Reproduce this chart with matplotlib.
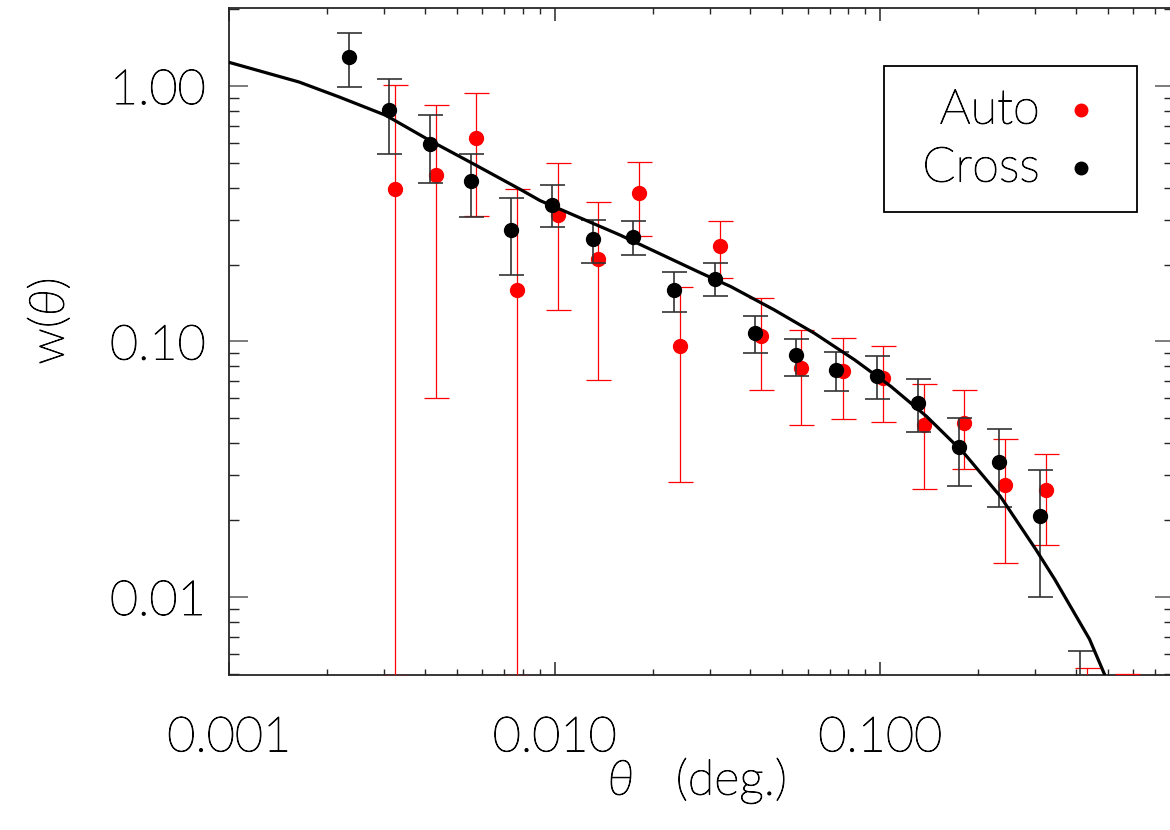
import matplotlib
matplotlib.use('Agg')
import matplotlib.pyplot as plt
import matplotlib.patheffects as pe
from matplotlib.patches import Rectangle
from matplotlib.ticker import FixedLocator, LogLocator, NullFormatter

###################################################################
## data

## cross-correlation w(theta)
theta_cross = [0.00233, 0.00310, 0.00414, 0.00553, 0.00736, 0.00981, 0.0131, 0.0174,
               0.0233, 0.0311, 0.0414, 0.0551, 0.0733, 0.0980, 0.131, 0.1745, 0.232,
               0.311, 0.4125]
w_cross = [1.30, 0.804, 0.592, 0.423, 0.273, 0.343, 0.251, 0.256, 0.159, 0.176, 0.108,
           0.0882, 0.0770, 0.0736, 0.0574, 0.0387, 0.0339, 0.0207, 0.003]
cross_hi = [1.61, 1.062, 0.770, 0.541, 0.364, 0.408, 0.299, 0.296, 0.187, 0.2025, 0.126,
            0.1027, 0.0909, 0.0879, 0.0710, 0.0502, 0.0453, 0.0315, 0.00615]
cross_lo = [0.991, 0.540, 0.418, 0.308, 0.182, 0.280, 0.2025, 0.218, 0.130, 0.151, 0.0903,
            0.0735, 0.0642, 0.0597, 0.0443, 0.0272, 0.0226, 0.0100, 0.001]

## auto-correlation w(theta)
theta_auto = [0.00323, 0.00432, 0.00575, 0.00767, 0.01023, 0.0136, 0.0182, 0.0243,
              0.0323, 0.0431, 0.0572, 0.0768, 0.1023, 0.1363, 0.1815, 0.242, 0.324,
              0.433, 0.575]
w_auto = [0.397, 0.449, 0.626, 0.159, 0.3125, 0.210, 0.381, 0.0962, 0.237, 0.1055, 0.0784,
          0.0766, 0.0721, 0.0471, 0.0480, 0.02755, 0.0262, 0.003, 0.002]
auto_hi = [1.013, 0.841, 0.939, 0.394, 0.498, 0.350, 0.5035, 0.164, 0.297, 0.1486, 0.1108,
           0.1034, 0.0959, 0.0679, 0.0644, 0.0417, 0.0364, 0.00527, 0.0050]
auto_lo = [0.0049, 0.0603, 0.3105, 0.0049, 0.133, 0.0708, 0.2587, 0.0283, 0.1769, 0.0644,
           0.0471, 0.0496, 0.0483, 0.02635, 0.03155, 0.01354, 0.01602, 0.001, 0.001]

## model curve
theta_model = [0.001, 0.00164, 0.00218, 0.00303, 0.00412, 0.00573, 0.00793, 0.00903,
               0.0159, 0.0280, 0.0348, 0.0473, 0.0628, 0.0835, 0.108, 0.139, 0.181,
               0.234, 0.301, 0.344, 0.440, 0.489, 0.497]
w_model = [1.238, 1.037, 0.906, 0.768, 0.614, 0.490, 0.391, 0.356, 0.261, 0.186, 0.164,
           0.133, 0.1078, 0.0848, 0.0667, 0.0509, 0.0366, 0.0248, 0.01535, 0.01173,
           0.00684, 0.00499, 0.0046]

xticks = [0.001, 0.01, 0.1]
xticklabels = ['0.001', '0.010', '0.100']
yticks = [0.01, 0.1, 1.0]
yticklabels = ['0.01', '0.10', '1.00']

###################################################################
## plotting

plt.rcParams['font.family'] = 'Lato'
plt.rcParams['font.weight'] = 'light'
plt.rcParams['axes.labelweight'] = 'light'
plt.rcParams['mathtext.fontset'] = 'custom'
plt.rcParams['mathtext.it'] = 'Lato:style=italic:weight=light'
plt.rcParams['mathtext.rm'] = 'Lato:weight=light'
fs = 35
ink = [pe.withStroke(linewidth=0.7, foreground='black')]  ## darken the thin glyphs

fig = plt.figure(figsize=(11.7, 8.3), dpi=100)
ax = fig.add_axes([229/1170, 1-675/830, 945/1170, 667/830])
ax.set_xscale('log')
ax.set_yscale('log')
ax.set_xlim(0.001, 0.8)
ax.set_ylim(0.00495, 2.02)

def err(w, lo, hi):
    return [[v - l for v, l in zip(w, lo)], [h - v for v, h in zip(w, hi)]]

ax.errorbar(theta_auto, w_auto, yerr=err(w_auto, auto_lo, auto_hi), fmt='o',
            color='red', ecolor='red', elinewidth=0.9, capsize=9, capthick=0.9,
            markersize=10, zorder=3)
ax.errorbar(theta_cross, w_cross, yerr=err(w_cross, cross_lo, cross_hi), fmt='o',
            color='black', ecolor='0.2', elinewidth=1.2, capsize=9, capthick=1.2,
            markersize=10, zorder=4)
ax.plot(theta_model, w_model, color='black', lw=2.3, zorder=5)

## ticks on all four sides, pointing in
ax.xaxis.set_major_locator(FixedLocator(xticks))
ax.set_xticklabels(xticklabels)
ax.xaxis.set_minor_locator(LogLocator(base=10, subs=range(2, 10)))
ax.xaxis.set_minor_formatter(NullFormatter())
ax.yaxis.set_major_locator(FixedLocator(yticks))
ax.set_yticklabels(yticklabels)
ax.yaxis.set_minor_locator(LogLocator(base=10, subs=range(2, 10)))
ax.yaxis.set_minor_formatter(NullFormatter())

ax.tick_params(axis='x', which='major', direction='in', top=True, length=9.5,
               width=1.1, color='0.15', labelsize=fs, labelcolor='black', pad=29)
ax.tick_params(axis='x', which='minor', direction='in', top=True, length=4.6,
               width=1.0, color='0.15')
ax.tick_params(axis='y', which='major', direction='in', right=True, length=13.7,
               width=1.1, color='0.35', labelsize=fs, labelcolor='black', pad=17)
ax.tick_params(axis='y', which='minor', direction='in', right=True, length=7.2,
               width=1.0, color='0.15')
for sp in ax.spines.values():
    sp.set_linewidth(1.3)
    sp.set_color('0.15')
for lab in ax.get_xticklabels() + ax.get_yticklabels():
    lab.set_path_effects(ink)

ax.set_xlabel(r'$\theta$   (deg.)', fontsize=fs, path_effects=ink)
ax.set_ylabel(r'w($\theta$)', fontsize=fs, path_effects=ink)
ax.xaxis.set_label_coords(0.495, -0.12)
ax.yaxis.set_label_coords(-0.165, 0.53)

## legend box
ax.add_patch(Rectangle((0.693, 0.694), 0.268, 0.219, transform=ax.transAxes,
                       facecolor='white', edgecolor='black', lw=1.3, zorder=6))
ax.text(0.858, 0.847, 'Auto', transform=ax.transAxes, ha='right', va='center',
        fontsize=fs, zorder=7, path_effects=ink)
ax.text(0.858, 0.760, 'Cross', transform=ax.transAxes, ha='right', va='center',
        fontsize=fs, zorder=7, path_effects=ink)
ax.plot([0.9016], [0.847], 'o', color='red', ms=9, transform=ax.transAxes, zorder=7)
ax.plot([0.9016], [0.760], 'o', color='black', ms=9, transform=ax.transAxes, zorder=7)

plt.savefig('out.png', dpi=100)
